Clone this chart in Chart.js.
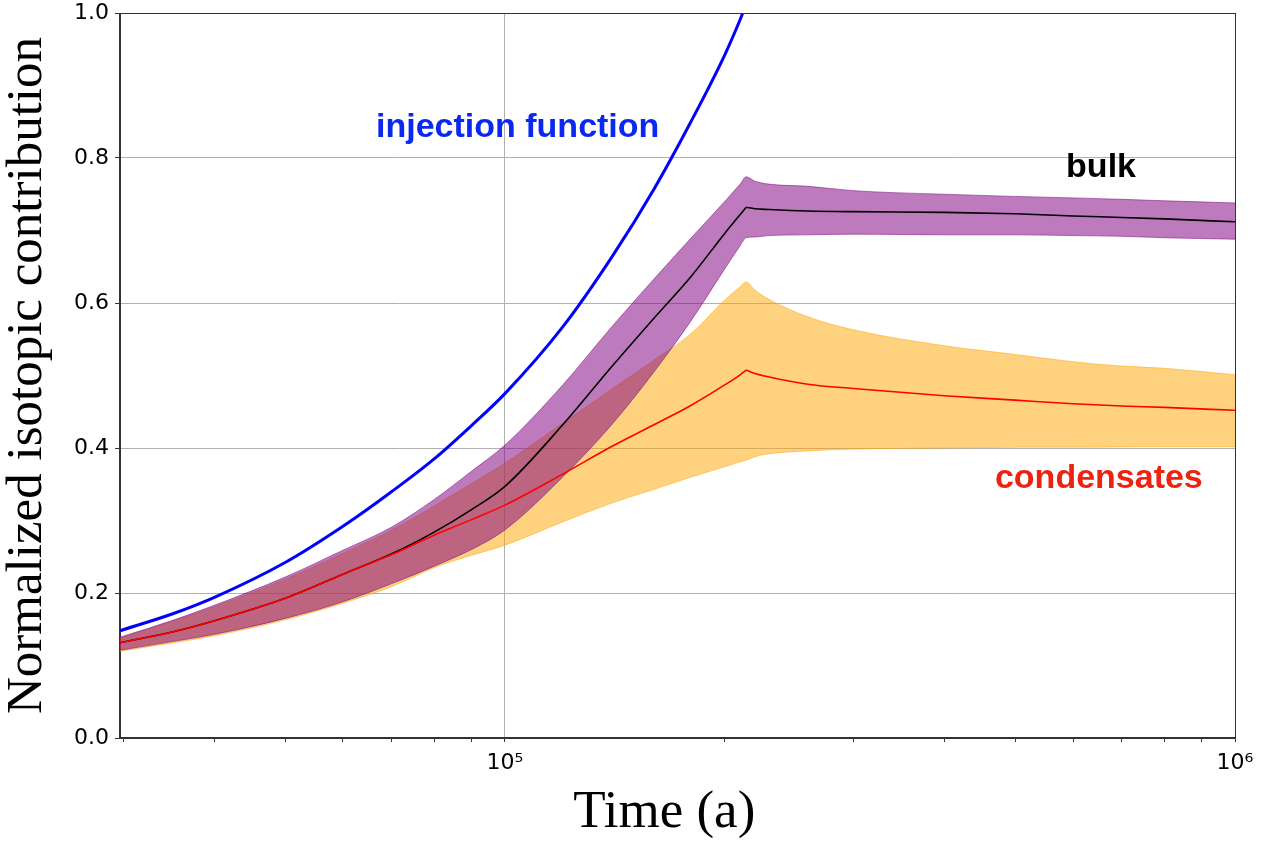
<!DOCTYPE html>
<html>
<head>
<meta charset="utf-8">
<script src="https://cdn.jsdelivr.net/npm/chart.js@4.4.1/dist/chart.umd.min.js"></script>
<style>
  html, body { margin: 0; padding: 0; background: #fff; }
  canvas { display: block; }
</style>
</head>
<body>
<canvas id="isotopeChart" width="1269" height="844"></canvas>
<script>
const ctx = document.getElementById("isotopeChart").getContext("2d");

// time (a), log axis
const times = [2.97e4, 3.5e4, 4e4, 5e4, 6e4, 7e4, 8e4, 9e4, 1e5, 1.2e5, 1.4e5, 1.6e5,
  1.8e5, 2e5, 2.1e5, 2.14e5, 2.2e5, 2.3e5, 2.6e5, 3e5, 4e5, 5e5, 6e5, 7e5, 8e5, 1e6];
const peakTime = 2.14e5;

// injection function runs off the top of the plot, so it stops early
const injection = [0.148, 0.171, 0.194, 0.242, 0.292, 0.340, 0.385, 0.431, 0.475, 0.567,
  0.663, 0.757, 0.851, 0.942, 0.991, 1.012, 1.04, 1.09];

const bulkMean = [0.1314, 0.1462, 0.1618, 0.1928, 0.226, 0.254, 0.284, 0.315, 0.347, 0.432,
  0.512, 0.579, 0.637, 0.696, 0.722, 0.732, 0.730, 0.729, 0.727, 0.726, 0.725, 0.723,
  0.720, 0.718, 0.716, 0.712];
const bulkUpper = [0.139, 0.162, 0.183, 0.222, 0.259, 0.291, 0.329, 0.368, 0.404, 0.487,
  0.567, 0.633, 0.690, 0.740, 0.764, 0.774, 0.768, 0.764, 0.761, 0.755, 0.750, 0.747,
  0.745, 0.743, 0.741, 0.738];
const bulkLower = [0.121, 0.133, 0.143, 0.165, 0.188, 0.213, 0.237, 0.260, 0.287, 0.360,
  0.432, 0.505, 0.576, 0.647, 0.679, 0.690, 0.691, 0.693, 0.694, 0.695, 0.694, 0.694,
  0.693, 0.692, 0.690, 0.688];

const condMean = [0.1314, 0.1462, 0.1618, 0.1928, 0.226, 0.253, 0.2798, 0.3012, 0.3212, 0.364,
  0.402, 0.432, 0.459, 0.487, 0.501, 0.5075, 0.5027, 0.498, 0.488, 0.482, 0.472, 0.466,
  0.461, 0.458, 0.456, 0.452];
const condUpper = [0.138, 0.161, 0.181, 0.219, 0.255, 0.287, 0.320, 0.351, 0.379, 0.434,
  0.481, 0.521, 0.558, 0.604, 0.6225, 0.629, 0.618, 0.605, 0.581, 0.563, 0.541, 0.529,
  0.519, 0.513, 0.510, 0.501];
const condLower = [0.1197, 0.131, 0.141, 0.163, 0.186, 0.209, 0.235, 0.252, 0.266, 0.298,
  0.324, 0.343, 0.360, 0.374, 0.381, 0.383, 0.388, 0.392, 0.396, 0.3985, 0.400, 0.401,
  0.401, 0.4015, 0.4017, 0.4017];

// axis ticks
const xTickValues = [3e4, 4e4, 5e4, 6e4, 7e4, 8e4, 9e4, 1e5, 2e5, 3e5, 4e5, 5e5, 6e5, 7e5, 8e5, 9e5, 1e6];
const xMajorTicks = [1e5, 1e6];
const xMajorLabels = ["10\u2075", "10\u2076"];

// text labels inside the plot (left edge / baseline, in data units)
const labelTexts = ["injection function", "bulk", "condensates"];
const labelTimes = [6.66e4, 5.87e5, 4.69e5];
const labelValues = [0.829, 0.774, 0.3447];
const labelColors = ["#0a28f0", "#000000", "#ee2211"];

const toPoints = (vals) => vals.map((v, i) => ({ x: times[i], y: v }));
const peakIdx = times.indexOf(peakTime);
// mean curves are split at the peak so the corner stays sharp
const rise = (vals) => toPoints(vals).slice(0, peakIdx + 1);
const fall = (vals) => toPoints(vals).slice(peakIdx);

const PURPLE = "rgba(128, 0, 128, 0.52)";
const ORANGE = "rgba(255, 165, 0, 0.5)";

const meanLine = (label, pts, color) => ({
  label: label,
  data: pts,
  borderColor: color,
  borderWidth: 1.6,
  fill: false,
});

const data = {
  datasets: [
    meanLine("condensates", rise(condMean), "#ff0000"),
    meanLine("condensates ", fall(condMean), "#ff0000"),
    meanLine("bulk", rise(bulkMean), "#000000"),
    meanLine("bulk ", fall(bulkMean), "#000000"),
    {
      label: "injection function",
      data: toPoints(injection),
      borderColor: "#0000ff",
      borderWidth: 3,
      clip: 0,
      fill: false,
    },
    {
      label: "bulk upper",
      data: toPoints(bulkUpper),
      borderColor: PURPLE,
      borderWidth: 1,
      backgroundColor: PURPLE,
      fill: "+1",
    },
    {
      label: "bulk lower",
      data: toPoints(bulkLower),
      borderColor: PURPLE,
      borderWidth: 1,
      fill: false,
    },
    {
      label: "condensates upper",
      data: toPoints(condUpper),
      borderColor: ORANGE,
      borderWidth: 1,
      backgroundColor: ORANGE,
      fill: "+1",
    },
    {
      label: "condensates lower",
      data: toPoints(condLower),
      borderColor: ORANGE,
      borderWidth: 1,
      fill: false,
    },
  ],
};

// box round the plot + the in-plot labels
const framePlugin = {
  id: "frame",
  afterDatasetsDraw(chart) {
    const { ctx: c, scales } = chart;
    c.save();
    c.font = 'bold 34px "Liberation Sans", Arial, sans-serif';
    c.textAlign = "left";
    c.textBaseline = "alphabetic";
    labelTexts.forEach((t, i) => {
      c.fillStyle = labelColors[i];
      c.fillText(t, scales.x.getPixelForValue(labelTimes[i]), scales.y.getPixelForValue(labelValues[i]));
    });
    c.restore();
  },
  afterDraw(chart) {
    const { ctx: c, chartArea: a } = chart;
    c.save();
    c.strokeStyle = "#333333";
    c.lineWidth = 1;
    c.strokeRect(Math.round(a.left) - 0.5, Math.round(a.top) + 0.5,
      Math.round(a.right - a.left) + 1, Math.round(a.bottom - a.top) - 1);
    c.restore();
  },
};

const tickFont = { family: '"DejaVu Sans", sans-serif', size: 22 };
const serif = '"Liberation Serif", "Times New Roman", serif';

const config = {
  type: "line",
  data: data,
  plugins: [framePlugin],
  options: {
    responsive: false,
    animation: false,
    layout: { padding: { top: 13, right: 34, left: 0, bottom: 0 } },
    elements: {
      point: { radius: 0 },
      line: { cubicInterpolationMode: "monotone" },
    },
    plugins: {
      legend: { display: false },
      tooltip: { enabled: false },
    },
    scales: {
      x: {
        type: "logarithmic",
        min: 2.97e4,
        max: 1e6,
        afterBuildTicks: (scale) => {
          scale.ticks = xTickValues.map((v) => ({ value: v }));
        },
        afterFit: (scale) => {
          scale.height = 106;
        },
        ticks: {
          autoSkip: false,
          maxRotation: 0,
          padding: 8,
          color: "#000",
          font: tickFont,
          callback: (value) => {
            const i = xMajorTicks.indexOf(value);
            return i >= 0 ? xMajorLabels[i] : "";
          },
        },
        grid: {
          color: (c) => (c.tick && xMajorTicks.includes(c.tick.value) ? "#b0b0b0" : "rgba(0,0,0,0)"),
          tickColor: "#333333",
          tickLength: 4,
          lineWidth: 1,
        },
        border: { display: true, color: "#333333", width: 1 },
        title: {
          display: true,
          text: "Time (a)\u2002",
          color: "#000",
          font: { family: serif, size: 53, lineHeight: 1.1 },
          padding: { top: 0, bottom: 2 },
        },
      },
      y: {
        min: 0,
        max: 1,
        afterFit: (scale) => {
          scale.width = 120;
          scale.paddingTop = 0;
          scale.paddingBottom = 0;
        },
        ticks: {
          stepSize: 0.2,
          padding: 6,
          color: "#000",
          font: tickFont,
          callback: (value) => value.toFixed(1),
        },
        grid: {
          color: "#b0b0b0",
          tickColor: "#333333",
          tickLength: 5,
          lineWidth: 1,
        },
        border: { display: true, color: "#333333", width: 1 },
        title: {
          display: true,
          text: "Normalized isotopic contribution",
          color: "#000",
          font: { family: serif, size: 51, lineHeight: 1.1 },
          padding: { top: 0, bottom: 0 },
        },
      },
    },
  },
};

const isotopeChart = new Chart(ctx, config);
</script>
</body>
</html>
